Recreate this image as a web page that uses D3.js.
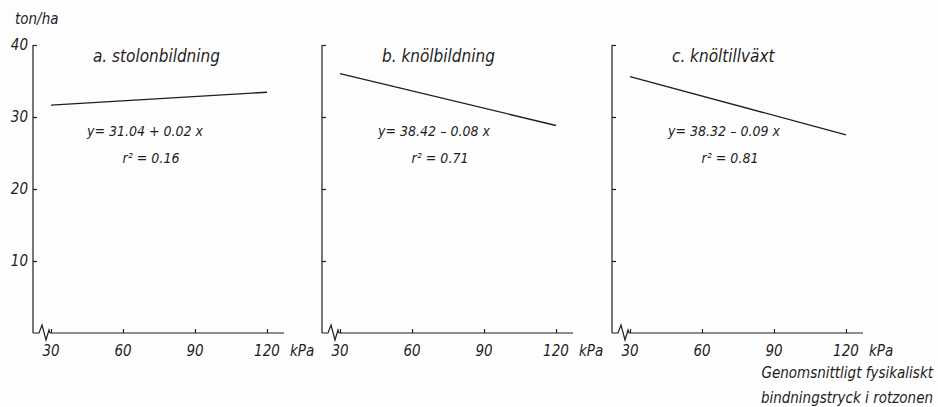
<!DOCTYPE html>
<html>
<head>
<meta charset="utf-8">
<script src="https://cdn.jsdelivr.net/npm/d3@7"></script>
<style>
  html, body { margin: 0; padding: 0; background: #fdfdfd; }
  svg text { font-family: "Liberation Sans Narrow", "DejaVu Sans Condensed", "Liberation Sans", sans-serif; font-style: italic; fill: #1e1e1e; }
</style>
</head>
<body>
<svg id="chart" width="938" height="407"></svg>
<script>
// Three regression panels: yield (ton/ha) against mean soil water tension in the root zone
const panelTitles = ["a.  stolonbildning", "b.  knölbildning", "c.  knöltillväxt"];
const intercepts = [31.04, 38.42, 38.32];
const slopes = [0.02, -0.08, -0.09];
const rSquared = ["0.16", "0.71", "0.81"];
const xTicks = [30, 60, 90, 120];
const yTicks = [10, 20, 30, 40];
const xRange = [30, 120];

const svg = d3.select("#chart");
const ink = "#1e1e1e";

const panelLeft = [33, 322, 612];
const y = d3.scaleLinear().domain([0, 40]).range([333, 45]);
const y0 = y(0);

svg.append("text").attr("x", 15).attr("y", 24).attr("font-size", 15).text("ton/ha");

panelLeft.forEach((ox, i) => {
  const x = d3.scaleLinear().domain(xRange).range([ox + 18, ox + 234]);
  const g = svg.append("g");

  // y axis with small inward ticks
  const yAxis = d3.axisRight(y).tickValues(yTicks).tickSize(4).tickFormat("");
  const ya = g.append("g").attr("transform", `translate(${ox},0)`).call(yAxis);
  ya.select(".domain").attr("d", `M0,${y0}V${y(40)}`).attr("stroke", ink).attr("stroke-width", 1.2);
  ya.selectAll(".tick line").attr("stroke", ink).attr("stroke-width", 1.2);

  if (i === 0) {
    yTicks.forEach(t => {
      svg.append("text").attr("x", ox - 5).attr("y", y(t) + 5)
        .attr("text-anchor", "end").attr("font-size", 15).text(t);
    });
  }

  // x axis, starting after the break mark
  const xEnd = x(120) + 17;
  const xAxis = d3.axisTop(x).tickValues(xTicks).tickSize(4).tickFormat("");
  const xa = g.append("g").attr("transform", `translate(0,${y0})`).call(xAxis);
  xa.select(".domain").attr("d", `M${x(30) - 1},0H${xEnd}`).attr("stroke", ink).attr("stroke-width", 1.2);
  xa.selectAll(".tick line").attr("stroke", ink).attr("stroke-width", 1.2);

  // axis break squiggle at the origin
  g.append("path")
    .attr("d", `M${ox},${y0}H${ox + 6}L${ox + 9},${y0 - 8}L${ox + 13},${y0 + 7}L${ox + 16},${y0 - 3}L${x(30) - 1},${y0}`)
    .attr("fill", "none").attr("stroke", ink).attr("stroke-width", 1.2);

  xTicks.forEach(t => {
    g.append("text").attr("x", x(t)).attr("y", y0 + 23)
      .attr("text-anchor", "middle").attr("font-size", 15).text(t);
  });
  g.append("text").attr("x", xEnd + 6).attr("y", y0 + 23).attr("font-size", 15).text("kPa");

  // regression line from the stated equation
  const line = d3.line().x(d => x(d)).y(d => y(intercepts[i] + slopes[i] * d));
  g.append("path").datum(xRange).attr("d", line)
    .attr("fill", "none").attr("stroke", ink).attr("stroke-width", 1.3);

  g.append("text").attr("x", ox + 60).attr("y", 62).attr("font-size", 17).text(panelTitles[i]);

  const sign = slopes[i] < 0 ? "–" : "+";
  const eq = `y= ${intercepts[i].toFixed(2)} ${sign} ${Math.abs(slopes[i]).toFixed(2)} x`;
  g.append("text").attr("x", ox + 112).attr("y", 136).attr("text-anchor", "middle")
    .attr("font-size", 14).text(eq);
  g.append("text").attr("x", ox + 118).attr("y", 163).attr("text-anchor", "middle")
    .attr("font-size", 14).text(`r² = ${rSquared[i]}`);
});

svg.append("text").attr("x", 933).attr("y", 378).attr("text-anchor", "end")
  .attr("font-size", 15).text("Genomsnittligt fysikaliskt");
svg.append("text").attr("x", 933).attr("y", 403).attr("text-anchor", "end")
  .attr("font-size", 15).text("bindningstryck i rotzonen");
</script>
</body>
</html>
